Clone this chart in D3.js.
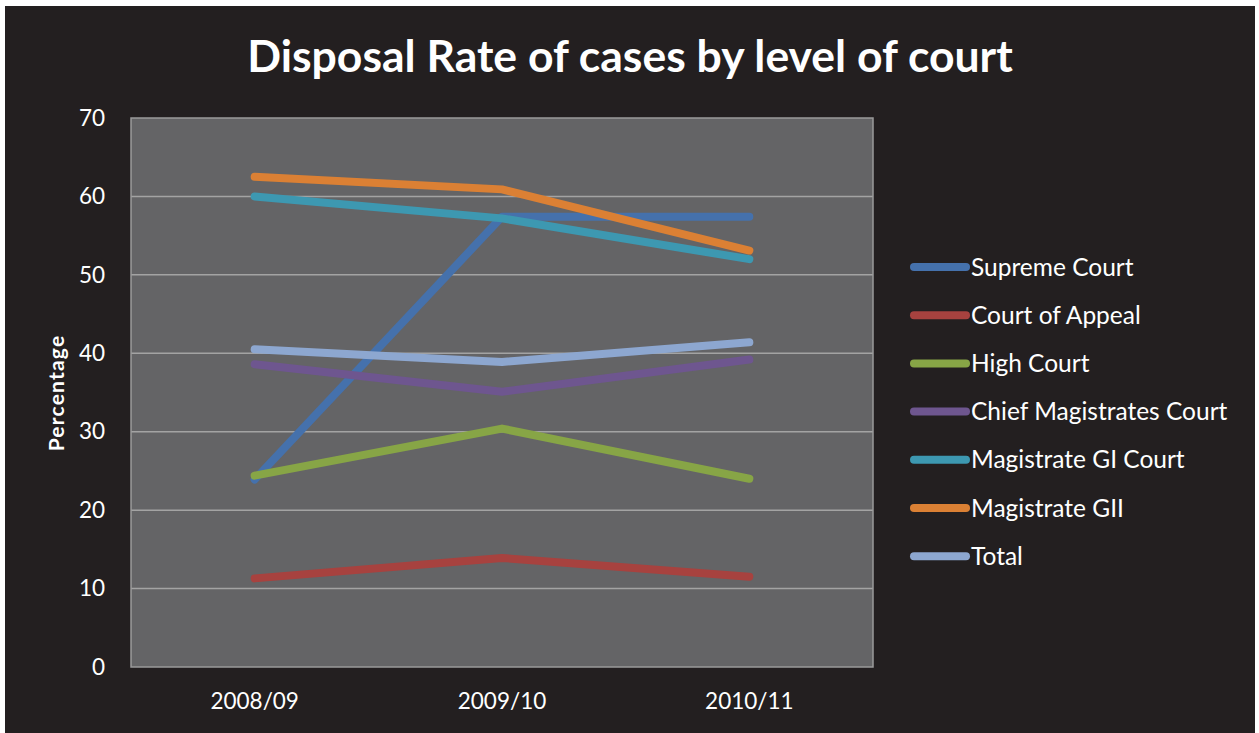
<!DOCTYPE html>
<html>
<head>
<meta charset="utf-8">
<script src="https://cdn.jsdelivr.net/npm/d3@7"></script>
<style>
  html, body { margin: 0; padding: 0; background: #ffffff; }
  svg { display: block; font-family: Lato, "Open Sans", sans-serif; }
</style>
</head>
<body>
<svg id="chart" width="1259" height="733"></svg>
<script>
// Disposal rate (%) per financial year for each court level
const years = ["2008/09", "2009/10", "2010/11"];
const supremeCourt = [23.9, 57.4, 57.4];
const courtOfAppeal = [11.3, 13.9, 11.5];
const highCourt = [24.4, 30.4, 24.0];
const chiefMagistrates = [38.6, 35.1, 39.2];
const magistrateGI = [60.0, 57.2, 52.0];
const magistrateGII = [62.5, 60.9, 53.1];
const total = [40.5, 38.9, 41.4];
const yTicks = [0, 10, 20, 30, 40, 50, 60, 70];

const series = [
  { name: "Supreme Court", values: supremeCourt, color: "#4571ac" },
  { name: "Court of Appeal", values: courtOfAppeal, color: "#a7423f" },
  { name: "High Court", values: highCourt, color: "#87a546" },
  { name: "Chief Magistrates Court", values: chiefMagistrates, color: "#6e568f" },
  { name: "Magistrate GI Court", values: magistrateGI, color: "#3d98b1" },
  { name: "Magistrate GII", values: magistrateGII, color: "#db8034" },
  { name: "Total", values: total, color: "#8da7d0" }
];

const svg = d3.select("#chart");

// Dark chart frame
svg.append("rect")
  .attr("x", 5).attr("y", 6).attr("width", 1250).attr("height", 727)
  .attr("fill", "#231f20");

const plot = { left: 131, top: 118, right: 873, bottom: 667 };

const x = d3.scaleBand().domain(years).range([plot.left, plot.right]);
const y = d3.scaleLinear().domain([0, 70]).range([plot.bottom, plot.top]);

// Plot area background
svg.append("rect")
  .attr("x", plot.left).attr("y", plot.top)
  .attr("width", plot.right - plot.left).attr("height", plot.bottom - plot.top)
  .attr("fill", "#646466");

// Horizontal gridlines
svg.append("g")
  .selectAll("line")
  .data(yTicks.filter(t => t > 0 && t < 70))
  .join("line")
  .attr("x1", plot.left).attr("x2", plot.right)
  .attr("y1", d => y(d)).attr("y2", d => y(d))
  .attr("stroke", "#a3a3a3").attr("stroke-width", 1.5);

// Plot border
svg.append("rect")
  .attr("x", plot.left).attr("y", plot.top)
  .attr("width", plot.right - plot.left).attr("height", plot.bottom - plot.top)
  .attr("fill", "none").attr("stroke", "#9a9a9a").attr("stroke-width", 1.5);

// Y axis labels
const yAxis = svg.append("g")
  .attr("transform", `translate(${plot.left - 26},0)`)
  .call(d3.axisLeft(y).tickValues(yTicks).tickSize(0).tickPadding(0));
yAxis.select(".domain").remove();
yAxis.selectAll("text")
  .attr("fill", "#ffffff")
  .attr("font-size", 22.5)
  .attr("font-family", "Lato, 'Open Sans', sans-serif");

// X axis labels
const xAxis = svg.append("g")
  .attr("transform", `translate(0,${plot.bottom + 26})`)
  .call(d3.axisBottom(x).tickSize(0).tickPadding(0));
xAxis.select(".domain").remove();
xAxis.selectAll("text")
  .attr("fill", "#ffffff")
  .attr("font-size", 22.5)
  .attr("font-family", "Lato, 'Open Sans', sans-serif");

// Y axis title
svg.append("text")
  .attr("transform", "translate(64,393) rotate(-90)")
  .attr("text-anchor", "middle")
  .attr("fill", "#ffffff")
  .attr("font-size", 21)
  .attr("letter-spacing", 1.2)
  .attr("font-weight", "bold")
  .text("Percentage");

// Chart title
svg.append("text")
  .attr("x", 630).attr("y", 72)
  .attr("text-anchor", "middle")
  .attr("fill", "#ffffff")
  .attr("font-size", 44.5)
  .attr("font-weight", "bold")
  .text("Disposal Rate of cases by level of court");

// Series lines
const line = d3.line()
  .x((d, i) => x(years[i]) + x.bandwidth() / 2)
  .y(d => y(d));

svg.append("g")
  .selectAll("path")
  .data(series)
  .join("path")
  .attr("d", d => line(d.values))
  .attr("fill", "none")
  .attr("stroke", d => d.color)
  .attr("stroke-width", 8)
  .attr("stroke-linecap", "round")
  .attr("stroke-linejoin", "round");

// Legend
const legend = svg.append("g")
  .selectAll("g")
  .data(series)
  .join("g")
  .attr("transform", (d, i) => `translate(914,${267 + i * 48.2})`);

legend.append("line")
  .attr("x1", 0).attr("x2", 52)
  .attr("stroke", d => d.color)
  .attr("stroke-width", 8)
  .attr("stroke-linecap", "round");

legend.append("text")
  .attr("x", 57).attr("y", 0)
  .attr("dy", "0.35em")
  .attr("fill", "#ffffff")
  .attr("font-size", 24.5)
  .text(d => d.name);
</script>
</body>
</html>
